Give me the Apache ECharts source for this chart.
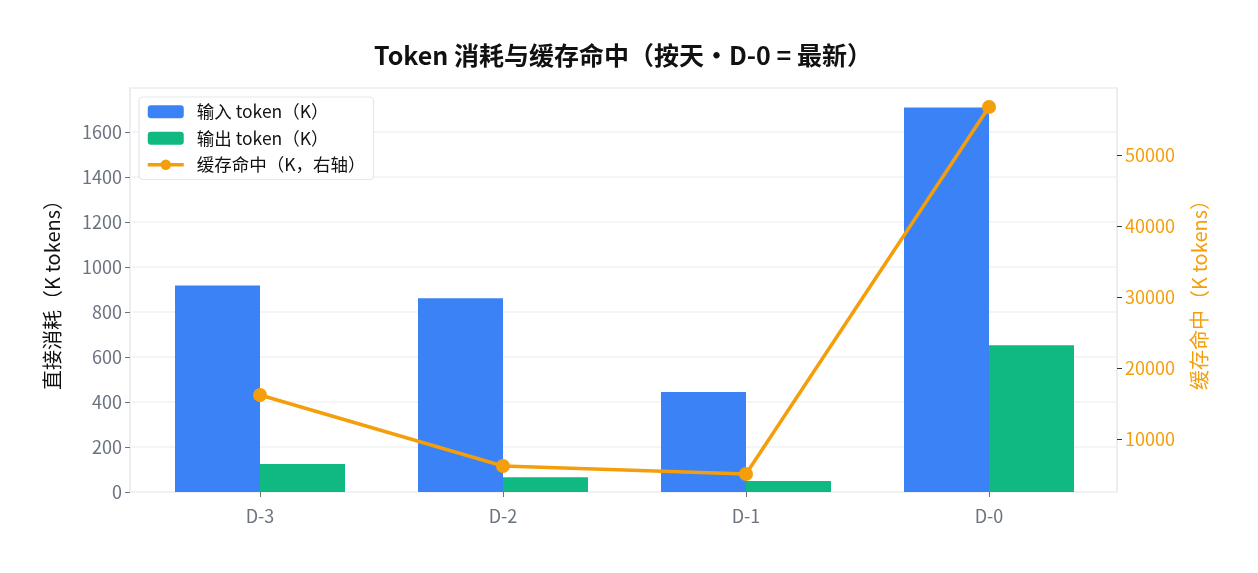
<!DOCTYPE html>
<html lang="zh">
<head>
  <meta charset="UTF-8" />
  <title>Token 消耗与缓存命中</title>
  <script src="https://cdn.jsdelivr.net/npm/echarts@6.0.0/dist/echarts.min.js"></script>
  <style>
    html, body { margin: 0; padding: 0; background: #fff; }
    #main { width: 1258px; height: 573px; }
  </style>
</head>
<body>
  <div id="main"></div>
  <script type="text/javascript">
    // 数据
    const days = ['D-3', 'D-2', 'D-1', 'D-0'];
    const inputTokens = [918, 861, 444, 1708];     // 输入 token（K）
    const outputTokens = [124, 66, 49, 652];       // 输出 token（K）
    const cacheHits = [16200, 6200, 5070, 56760];  // 缓存命中（K）
    const rightTicks = [10000, 20000, 30000, 40000, 50000];

    const font = 'Noto Sans CJK SC';
    const blue = '#3b82f6', green = '#10b981', orange = '#f59e0b';
    const gray = '#6b7280', border = '#e5e7eb';

    const leftMax = 1795;
    const rightMin = 2535, rightMax = 59437;

    const plain = v => String(v);

    const chart = echarts.init(document.getElementById('main'));
    chart.setOption({
      animation: false,
      textStyle: { fontFamily: font },
      title: {
        text: 'Token 消耗与缓存命中（按天・D-0 = 最新）',
        left: 618, top: 38, textAlign: 'center',
        textStyle: { fontFamily: font, fontSize: 25, fontWeight: 'bold', color: '#111' }
      },
      legend: {
        orient: 'vertical',
        left: 139, top: 97,
        padding: [6, 8, 6, 7],
        itemWidth: 36, itemHeight: 13, itemGap: 9,
        backgroundColor: '#fff',
        borderColor: border, borderWidth: 1.2, borderRadius: 4,
        textStyle: { fontFamily: font, fontSize: 17.5, color: '#111', padding: [0, 0, 0, 8] },
        data: [
          '输入 token（K）',
          '输出 token（K）',
          { name: '缓存命中（K，右轴）', lineStyle: { width: 3.5 } }
        ]
      },
      grid: [
        // 数据网格（类别中心对齐）
        { left: 138.5, right: 147.5, top: 88, bottom: 81, containLabel: false },
        // 外框与横向网格线
        { left: 130, right: 141, top: 88, bottom: 81, show: true,
          borderColor: border, borderWidth: 1.5, containLabel: false, z: 0 }
      ],
      xAxis: [
        {
          type: 'category', gridIndex: 0, data: days,
          axisLine: { show: false },
          axisTick: { show: true, alignWithLabel: true, length: 5, lineStyle: { color: gray } },
          axisLabel: { color: gray, fontSize: 18, margin: 15, fontFamily: font }
        },
        { type: 'value', gridIndex: 1, show: false, min: 0, max: 1 }
      ],
      yAxis: [
        {
          type: 'value', gridIndex: 0, position: 'left', offset: 8.5,
          min: 0, max: leftMax, interval: 200,
          name: '直接消耗（K tokens）', nameLocation: 'middle', nameGap: 68,
          nameTextStyle: { color: '#111', fontSize: 20, fontFamily: font },
          axisLine: { show: false },
          axisTick: { show: true, length: 5, lineStyle: { color: gray } },
          axisLabel: { color: gray, fontSize: 18, margin: 8, fontFamily: font,
            formatter: plain, showMaxLabel: false },
          splitLine: { show: false }
        },
        {
          type: 'value', gridIndex: 0, position: 'right', offset: 6.5,
          min: rightMin, max: rightMax,
          name: '缓存命中（K tokens）', nameLocation: 'middle', nameGap: 72,
          nameRotate: 90,
          nameTextStyle: { color: orange, fontSize: 20, fontFamily: font },
          axisLine: { show: false },
          axisTick: { show: true, length: 5, customValues: rightTicks, lineStyle: { color: '#333' } },
          axisLabel: { color: orange, fontSize: 18, margin: 8, fontFamily: font,
            formatter: plain, customValues: rightTicks },
          splitLine: { show: false }
        },
        {
          type: 'value', gridIndex: 1, min: 0, max: leftMax, interval: 200,
          axisLine: { show: false }, axisTick: { show: false }, axisLabel: { show: false },
          splitLine: { show: true, lineStyle: { color: '#f1f2f4', width: 1.5 } }
        }
      ],
      series: [
        {
          name: '输入 token（K）', type: 'bar', xAxisIndex: 0, yAxisIndex: 0,
          data: inputTokens, barWidth: 85, barGap: '0%',
          itemStyle: { color: blue }, z: 2
        },
        {
          name: '输出 token（K）', type: 'bar', xAxisIndex: 0, yAxisIndex: 0,
          data: outputTokens, barWidth: 85, barGap: '0%',
          itemStyle: { color: green }, z: 2
        },
        {
          name: '缓存命中（K，右轴）', type: 'line', xAxisIndex: 0, yAxisIndex: 1,
          data: cacheHits, symbol: 'circle', symbolSize: 14,
          lineStyle: { color: orange, width: 3.5 },
          itemStyle: { color: orange }, z: 5
        }
      ]
    });
  </script>
</body>
</html>
